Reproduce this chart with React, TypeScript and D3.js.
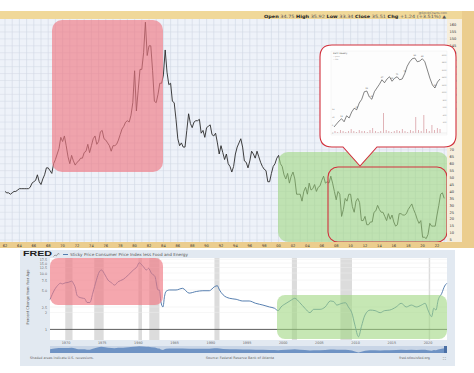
import React from 'react';
import * as d3 from 'd3';

// 10-year yield ($TNX, x10), quarterly samples from 1962.0
const tnxStart = 1962;
const tnxValues = [
  40, 39, 39, 38, 39, 40, 40, 41, 42, 42, 42, 42, 42, 42, 43, 46,
  47, 48, 52, 47, 45, 49, 52, 57, 57, 55, 53, 60, 63, 67, 71, 79,
  76, 80, 73, 65, 60, 66, 62, 59, 61, 62, 64, 64, 68, 69, 74, 68,
  73, 78, 80, 74, 76, 83, 84, 78, 77, 75, 73, 69, 73, 73, 74, 77,
  81, 85, 87, 90, 91, 90, 95, 104, 127, 98, 113, 128, 128, 140, 162, 138,
  145, 145, 127, 105, 104, 110, 118, 118, 124, 142, 126, 117, 118, 105, 104, 92,
  78, 73, 75, 72, 72, 84, 96, 89, 86, 90, 91, 91, 92, 82, 84, 79,
  86, 87, 88, 81, 80, 82, 75, 67, 73, 68, 63, 67, 60, 58, 54, 58,
  67, 72, 75, 78, 72, 62, 61, 57, 62, 69, 67, 64, 69, 65, 61, 58,
  56, 55, 47, 47, 53, 58, 60, 64, 66, 60, 58, 52, 49, 53, 46, 51,
  54, 49, 38, 38, 38, 33, 40, 43, 38, 46, 41, 42, 45, 40, 43, 44,
  48, 51, 46, 47, 46, 51, 46, 40, 34, 40, 38, 22, 27, 35, 33, 38,
  38, 29, 25, 33, 35, 32, 19, 19, 22, 16, 16, 18, 18, 25, 26, 30,
  27, 25, 25, 22, 19, 24, 20, 23, 18, 15, 16, 24, 24, 23, 23, 24,
  27, 29, 31, 27, 24, 20, 17, 19, 7, 7, 6, 9, 17, 15, 15, 15,
  23, 30, 38, 39, 35,
];
const tnxAxisTicks = d3.range(5, 161, 5);
const tnxYearLabels = d3.range(1962, 2023, 2);

// inset (zoomed index chart)
const insetValues = [4, 8, 12, 15, 11, 19, 16, 24, 29, 27, 36, 41, 51, 52, 44, 41, 51, 56, 61, 67, 63, 68,
  71, 65, 69, 71, 67, 68, 75, 85, 91, 95, 96, 91, 92, 95, 91, 80, 69, 60, 56, 64, 68];
const insetVolume = [2, 1, 3, 2, 1, 2, 4, 2, 1, 3, 2, 2, 1, 3, 5, 2, 1, 2, 20, 3, 2, 1, 2, 3, 2, 4, 2, 1,
  3, 2, 16, 3, 2, 18, 4, 2, 8, 3, 5, 4];
const insetNotes = [[3, '12'], [9, '27'], [13, '52'], [15, '41'], [19, '67'], [23, '65'], [25, '71'],
  [28, '75'], [32, '96'], [35, '95'], [40, '56']];
const insetAxisTicks = d3.range(10, 101, 10);

// FRED: sticky CPI less food & energy, % change from year ago
const fredYears = [1967.8, 1968.4, 1969.0, 1969.2, 1969.5, 1969.9, 1970.3, 1970.8, 1971.0, 1971.3, 1971.5,
  1971.7, 1972.2, 1972.6, 1972.9, 1973.3, 1973.7, 1974.2, 1974.6, 1974.9, 1975.4, 1975.8, 1976.3, 1976.7,
  1977.2, 1977.9, 1978.6, 1979.3, 1979.8, 1980.1, 1980.7, 1981.1, 1981.4, 1981.8, 1982.3, 1982.7, 1982.9,
  1983.1, 1983.4, 1983.6, 1983.8, 1984.3, 1985.2, 1986.1, 1987.0, 1988.0, 1988.9, 1989.8, 1990.5, 1990.9,
  1991.2, 1991.7, 1992.6, 1993.5, 1994.4, 1995.3, 1996.2, 1997.2, 1998.1, 1998.8, 1999.3, 1999.7, 2000.4,
  2001.1, 2001.6, 2002.3, 2003.0, 2003.7, 2004.2, 2005.1, 2005.8, 2006.5, 2007.0, 2007.4, 2008.1, 2008.6,
  2009.0, 2009.5, 2009.9, 2010.4, 2010.8, 2011.3, 2012.0, 2012.7, 2013.4, 2014.0, 2014.7, 2015.6, 2016.3,
  2017.0, 2017.7, 2018.4, 2019.1, 2019.6, 2020.0, 2020.5, 2020.8, 2021.1, 2021.4, 2021.9, 2022.3, 2022.6];
const fredValues = [3.4, 5.0, 6.3, 6.6, 6.4, 6.7, 6.8, 7.2, 6.6, 5.4, 4.1,
  3.8, 3.6, 3.5, 3.0, 3.0, 4.4, 7.5, 10.5, 11.3, 9.2, 7.5, 6.7, 6.1,
  7.0, 7.7, 9.2, 11.3, 12.9, 15.2, 12.9, 11.3, 12.1, 9.9, 8.6, 5.0, 5.0,
  3.1, 2.5, 3.8, 4.7, 5.0, 5.0, 5.35, 4.4, 4.7, 4.85, 4.85, 5.7, 5.95,
  5.0, 4.1, 3.56, 3.42, 3.19, 3.19, 2.9, 2.7, 2.5, 2.37, 2.15, 2.5, 2.9,
  3.3, 3.56, 2.97, 2.37, 1.98, 2.27, 2.27, 2.5, 3.19, 3.1, 2.7, 2.9, 2.97,
  2.5, 1.93, 1.2, 0.74, 1.12, 1.8, 2.2, 2.15, 1.98, 2.15, 2.2, 2.5, 2.9,
  2.5, 2.7, 2.5, 2.7, 2.9, 2.2, 1.68, 2.37, 2.2, 3.3, 4.36, 5.88, 6.56];
const fredTicks = [1, 2, 2.5, 5, 7.5, 10, 12.5, 15, 17.5];
const fredTickLabels = ['1', '2', '2.5', '5.0', '7.5', '10.0', '12.5', '15.0', '17.5'];
const fredYearTicks = d3.range(1970, 2021, 5);
const recessions = [[1969.9, 1970.9], [1973.9, 1975.2], [1980.0, 1980.5], [1981.5, 1982.9],
  [1990.5, 1991.2], [2001.2, 2001.9], [2007.9, 2009.5], [2020.1, 2020.3]];

const font = 'DejaVu Sans, Verdana, sans-serif';
const redFill = 'rgb(240,120,130)';
const greenFill = 'rgb(160,215,130)';
const redLine = '#d2303c';

export default function App() {
  // top chart scales
  const x = d3.scaleLinear().domain([1962, 2022]).range([5, 437]);
  const y = d3.scaleLinear().domain([5, 160]).range([240, 25]);
  const tnxLine = d3.line<number>().x((d, i) => x(tnxStart + i * 0.25)).y((d) => y(d));

  // inset scales
  const ix = d3.scaleLinear().domain([0, insetValues.length - 1]).range([334, 440]);
  const iy = d3.scaleLinear().domain([0, 100]).range([130, 55]);
  const vx = d3.scaleLinear().domain([0, insetVolume.length - 1]).range([335, 440]);
  const vy = d3.scaleLinear().domain([0, 25]).range([133, 108]);
  const insetLine = d3.line<number>().x((d, i) => ix(i)).y((d) => iy(d));

  // FRED scales
  const fx = d3.scaleLinear().domain([1970, 2020]).range([66, 428]);
  const fy = d3.scaleLog().domain([1, 17.5]).range([329.4, 259.3]);
  const fredLine = d3.line<number>().x((d, i) => fx(fredYears[i])).y((d) => fy(d)).curve(d3.curveMonotoneX);
  const ny = d3.scaleLog().domain([0.6, 17]).range([353, 346]);
  const navArea = d3.area<number>().x((d, i) => fx(fredYears[i])).y0(353).y1((d) => ny(d));

  const years = d3.range(1962, 2024);

  return (
    <svg width={474} height={373} style={{ position: 'fixed', left: 0, top: 0, background: '#fff' }}
      fontFamily={font}>
      {/* header */}
      <rect x={0} y={11} width={474} height={8} fill="#f0d899" />
      <text x={447} y={13.8} fontSize={3} fill="#666" textAnchor="end">@StockCharts.com</text>
      <text x={264} y={17.8} fontSize={4.4} textLength={182} lengthAdjust="spacingAndGlyphs" fill="#555">
        <tspan fontWeight="bold" fill="#222">Open</tspan> 34.75 <tspan fontWeight="bold" fill="#222">High</tspan> 35.92{' '}
        <tspan fontWeight="bold" fill="#222">Low</tspan> 33.34 <tspan fontWeight="bold" fill="#222">Close</tspan> 35.51{' '}
        <tspan fontWeight="bold" fill="#222">Chg</tspan> +1.24 (+3.51%) ▲
      </text>

      {/* plot area */}
      <rect x={0} y={19} width={447} height={223} fill="#eef2f9" />
      {years.map((yr) => (
        <line key={'vg' + yr} x1={x(yr)} x2={x(yr)} y1={19} y2={242} stroke="#c9d1de" strokeWidth={0.5} />
      ))}
      {tnxAxisTicks.map((t) => (
        <line key={'hg' + t} x1={0} x2={447} y1={y(t)} y2={y(t)} stroke="#d3d9e4" strokeWidth={0.5} />
      ))}
      <path d={tnxLine(tnxValues) || ''} fill="none" stroke="#2a2a2a" strokeWidth={0.9} />

      {/* highlights */}
      <rect x={52} y={20} width={111} height={152} rx={10} fill={redFill} opacity={0.65} />
      <rect x={278} y={152} width={170} height={90} rx={10} fill={greenFill} opacity={0.6} />
      <rect x={328} y={167} width={119} height={75} rx={10} fill="none" stroke={redLine} strokeWidth={1.1} />

      {/* right axis */}
      <rect x={447} y={19} width={15} height={223} fill="#f6eedd" />
      <rect x={462} y={11} width={12} height={237} fill="#ebcd8e" />
      {tnxAxisTicks.map((t) => (
        <text key={'yl' + t} x={449.5} y={y(t) + 1.3} fontSize={3.6} fill="#333">{t}</text>
      ))}

      {/* bottom axis */}
      <rect x={0} y={242} width={474} height={6} fill="#ebcd8e" />
      {tnxYearLabels.map((yr) => (
        <text key={'xl' + yr} x={x(yr)} y={246.6} fontSize={3.6} fill="#333" textAnchor="middle">
          {String(yr % 100).padStart(2, '0')}
        </text>
      ))}

      {/* callout with inset chart */}
      <path d="M332,45 H444 Q456,45 456,57 V135 Q456,147 444,147 H377 L360,166 L343,147 H332 Q320,147 320,135 V57 Q320,45 332,45 Z"
        fill="#fff" stroke={redLine} strokeWidth={1.1} />
      <rect x={331} y={51} width={116} height={84} fill="#fdfdfd" stroke="#e4e4e4" strokeWidth={0.3} />
      <text x={333} y={54} fontSize={2.2} fill="#555">$SPX Weekly</text>
      <text x={333} y={57} fontSize={1.8} fill="#888">— price</text>
      <text x={333} y={59.5} fontSize={1.8} fill="#888">— MA</text>
      {insetAxisTicks.map((t) => (
        <text key={'ia' + t} x={446.3} y={iy(t) + 0.7} fontSize={1.8} fill="#777" textAnchor="end">{t * 20}</text>
      ))}
      {[0, 8, 16, 24].map((t) => (
        <text key={'iv' + t} x={332} y={vy(t) + 0.7} fontSize={1.9} fill="#777">{t}</text>
      ))}
      {insetVolume.map((v, i) => (
        <rect key={'vb' + i} x={vx(i) - 0.4} y={vy(v)} width={0.8} height={133 - vy(v)} fill="#d9a0a6" />
      ))}
      <line x1={333} x2={447} y1={133} y2={133} stroke="#ccc" strokeWidth={0.3} />
      <path d={insetLine(insetValues) || ''} fill="none" stroke="#333" strokeWidth={0.6} />
      {insetNotes.map(([i, s]) => (
        <text key={'in' + i} x={ix(i as number)} y={iy(insetValues[i as number]) - 2} fontSize={2}
          fill="#555" textAnchor="middle">{s}</text>
      ))}

      {/* FRED panel */}
      <rect x={20} y={250} width={435} height={116} fill="#e2e9f1" />
      <text x={23} y={256} fontSize={8} fontWeight="bold" fill="#1e1e1e" textLength={29}
        lengthAdjust="spacingAndGlyphs" fontFamily="Liberation Sans, Arial, sans-serif">FRED</text>
      <polyline points="53.5,256.5 55,255 56.5,255.8 58,253.5 59.5,254.1" fill="none" stroke="#555" strokeWidth={0.5} />
      <line x1={63} x2={68} y1={254.5} y2={254.5} stroke="#4572a7" strokeWidth={0.9} />
      <text x={70} y={255.8} fontSize={4.2} fill="#555" textLength={118} lengthAdjust="spacingAndGlyphs">
        Sticky Price Consumer Price Index less Food and Energy
      </text>
      <rect x={50} y={258} width={397} height={82} fill="#fff" />
      {recessions.map(([a, b]) => (
        <rect key={'r' + a} x={fx(a)} y={258} width={Math.max(fx(b) - fx(a), 1.2)} height={82} fill="#dcdcdc" />
      ))}
      {fredTicks.map((t, i) => (
        <g key={'ft' + t}>
          <line x1={50} x2={447} y1={fy(t)} y2={fy(t)} stroke={t === 1 ? '#4a4a4a' : '#ececec'}
            strokeWidth={t === 1 ? 0.9 : 0.5} />
          <text x={47} y={fy(t) + 1.6} fontSize={3.3} fill="#666" textAnchor="end">{fredTickLabels[i]}</text>
        </g>
      ))}
      <text transform="translate(28.5,297) rotate(-90)" fontSize={3.6} fill="#555" textAnchor="middle">
        Percent Change from Year Ago
      </text>
      <path d={fredLine(fredValues) || ''} fill="none" stroke="#4572a7" strokeWidth={0.9} />
      <rect x={50} y={258} width={113} height={47} rx={8} fill={redFill} opacity={0.65} />
      <rect x={277} y={295} width={170} height={44} rx={8} fill={greenFill} opacity={0.6} />
      {fredYearTicks.map((yr) => (
        <text key={'fx' + yr} x={fx(yr)} y={344} fontSize={3.4} fill="#666" textAnchor="middle">{yr}</text>
      ))}
      <rect x={50} y={346} width={397} height={7} fill="#c8d5e6" />
      <path d={navArea(fredValues) || ''} fill="#6f93c4" />
      <rect x={444} y={346} width={3} height={7} fill="#4a6fa5" />
      <text x={30} y={359} fontSize={3.3} fill="#666">Shaded areas indicate U.S. recessions.</text>
      <text x={240} y={359} fontSize={3.4} fill="#666" textAnchor="middle">Source: Federal Reserve Bank of Atlanta</text>
      <text x={430} y={359} fontSize={3.4} fill="#666" textAnchor="end">fred.stlouisfed.org</text>
      <text x={443} y={359.5} fontSize={4} fill="#666">⛶</text>
    </svg>
  );
}
